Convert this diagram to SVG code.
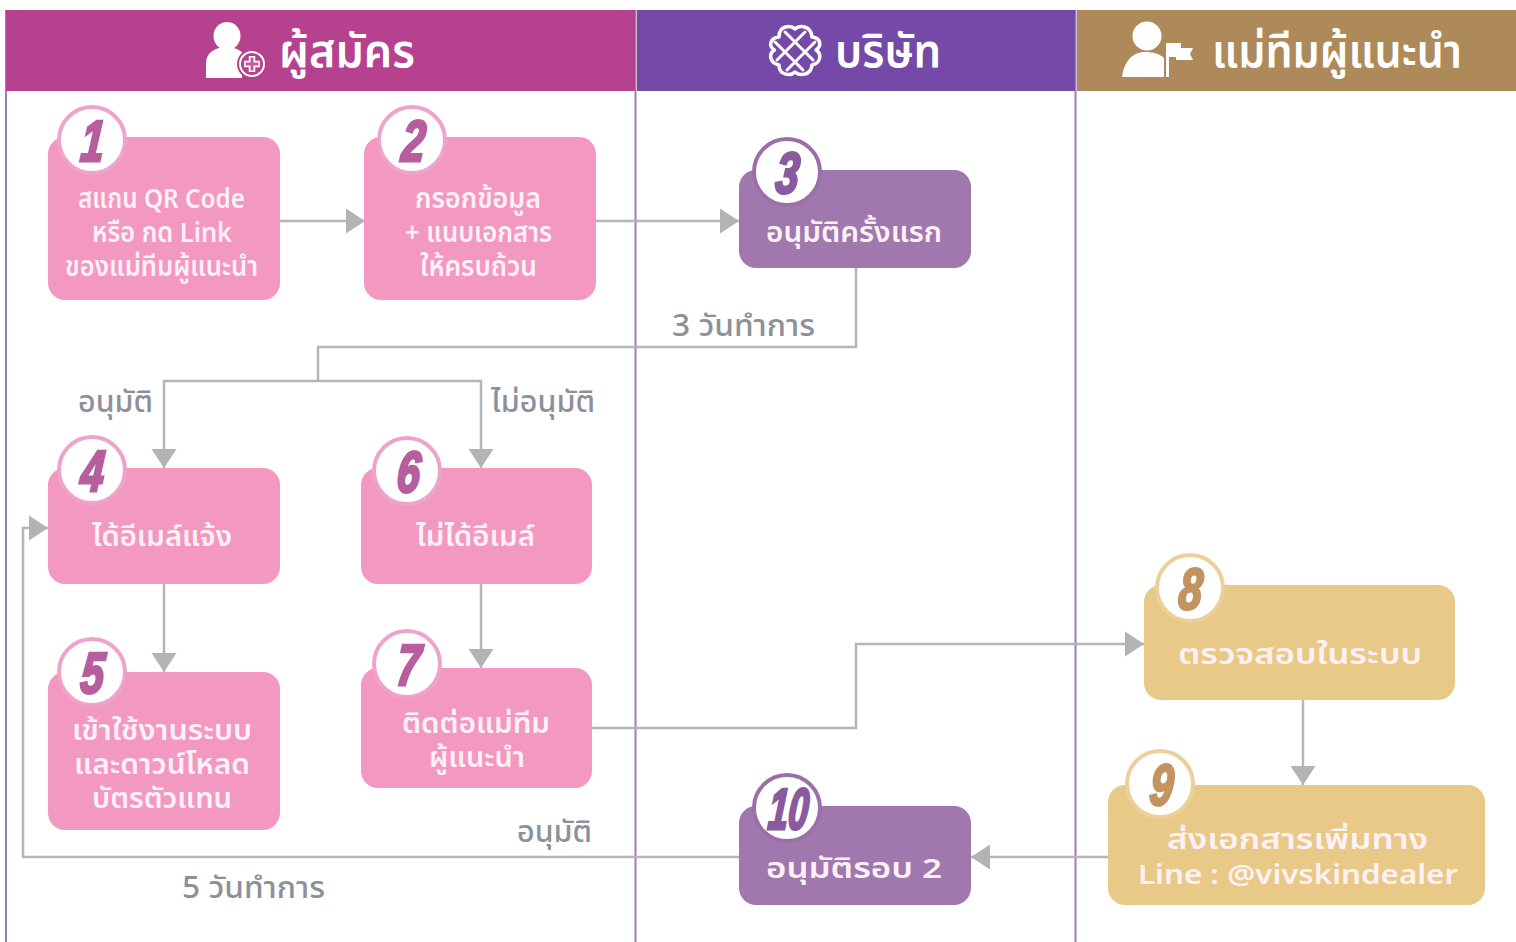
<svg xmlns="http://www.w3.org/2000/svg" width="1516" height="942" viewBox="0 0 1516 942">
<style>
text{font-family:"Noto Sans","Noto Sans Thai","Liberation Sans",sans-serif}
.h{font-size:47px;font-weight:600;fill:#fff}
.t{font-size:27.500px;font-weight:600;fill:#fdf1f6}
.l{font-size:31px;font-weight:500;fill:#8d909a}
.n{font-family:"Liberation Sans",sans-serif;font-size:58px;font-weight:700;font-style:italic;text-anchor:middle;stroke-width:3}
.c{fill:#fff;stroke-width:4}
.p{fill:#f398c0}.pc{stroke:#f0a3c8}.pn{fill:#b65e9e;stroke:#b65e9e}
.v{fill:#a078ae}.vc{stroke:#9a70a8}.vn{fill:#8a5a9e;stroke:#8a5a9e}
.g{fill:#e9c987}.gc{stroke:#ebd09a}.gn{fill:#c29560;stroke:#c29560}
.w{fill:none;stroke:#b5b5b5;stroke-width:2.5}
.lane{fill:none;stroke:#9c7db4;stroke-width:2}
.ic{fill:#fff}
</style>
<defs>
<marker id="a" markerUnits="userSpaceOnUse" markerWidth="20" markerHeight="26" refX="20" refY="13" orient="auto"><path d="M1 0.500L20 13L1 25.500Z" fill="#b3b3b3"/></marker>
</defs>
<rect width="1516" height="942" fill="#fff"/>
<g id="lanes">
<path class="lane" d="M6 10V942M635.500 10V942M1075.500 10V942"/>
<rect x="6" y="10" width="629" height="81" fill="#b5418f"/>
<rect x="637" y="10" width="438" height="81" fill="#7449a8"/>
<rect x="1077" y="10" width="439" height="81" fill="#ae8a5a"/>
</g>
<g id="lane-applicant">
<ellipse class="ic" cx="227" cy="36" rx="13.500" ry="14"/>
<path class="ic" d="M206 78V63C206 53 215 47 227 47C233 47 238 49 242 52V78Z"/>
<circle cx="252" cy="64" r="15" fill="#b5418f"/>
<circle cx="252" cy="64" r="12" fill="#b5418f" stroke="#fff" stroke-width="2"/>
<path d="M252 56V72M244 64H260" stroke="#fff" stroke-width="6.500"/>
<path d="M252 57.500V70.500M245.500 64H258.500" stroke="#c45aa0" stroke-width="3"/>
<text class="h" x="279" y="67" textLength="136" lengthAdjust="spacingAndGlyphs">ผู้สมัคร</text>
</g>
<g id="lane-company">
<path d="M795 29C791 25 779 25 779 37C770 38 768 46 774.500 50C768 54 770 63 779 65C779 76 791 76 795 72C799 76 811 76 812 65C821 63 822 54 816 50C822 46 821 38 812 37C811 25 799 25 795 29Z" fill="none" stroke="#fff" stroke-width="3.500" stroke-linejoin="round"/>
<path d="M775 42L803 70M785 32L813 60M815 42L787 70M805 32L777 60" fill="none" stroke="#fff" stroke-width="3" stroke-linecap="round"/>
<text class="h" x="835" y="67" textLength="106" lengthAdjust="spacingAndGlyphs">บริษัท</text>
</g>
<g id="lane-mentor">
<circle class="ic" cx="1147" cy="36" r="14.500"/>
<path class="ic" d="M1122 77C1124 62 1132 52 1145 52C1153 52 1160 54 1164 58V77Z"/>
<path class="ic" d="M1166 43H1181V57H1169V77H1166Z"/>
<path class="ic" d="M1181 48H1193L1190 54L1193 60H1176V57H1181Z"/>
<text class="h" x="1212" y="67" textLength="250" lengthAdjust="spacingAndGlyphs">แม่ทีมผู้แนะนำ</text>
</g>
<g id="connectors">
<path class="w" marker-end="url(#a)" d="M279 221H365"/>
<path class="w" marker-end="url(#a)" d="M596 221H739"/>
<path class="w" d="M856 268V347H318V381"/>
<path class="w" marker-end="url(#a)" d="M318 381H164V468"/>
<path class="w" marker-end="url(#a)" d="M318 381H481V468"/>
<path class="w" marker-end="url(#a)" d="M164 584V672"/>
<path class="w" marker-end="url(#a)" d="M481 584V668"/>
<path class="w" marker-end="url(#a)" d="M592 728H856V644H1144"/>
<path class="w" marker-end="url(#a)" d="M1303 700V785"/>
<path class="w" marker-end="url(#a)" d="M1108 857H971"/>
<path class="w" marker-end="url(#a)" d="M739 857H23V528H48"/>
</g>
<g id="labels">
<text class="l" x="672" y="336" textLength="143" lengthAdjust="spacingAndGlyphs">3 วันทำการ</text>
<text class="l" x="78" y="412" textLength="75" lengthAdjust="spacingAndGlyphs">อนุมัติ</text>
<text class="l" x="491" y="412" textLength="104" lengthAdjust="spacingAndGlyphs">ไม่อนุมัติ</text>
<text class="l" x="517" y="842" textLength="75" lengthAdjust="spacingAndGlyphs">อนุมัติ</text>
<text class="l" x="182" y="898" textLength="143" lengthAdjust="spacingAndGlyphs">5 วันทำการ</text>
</g>
<g id="node1"><rect class="p" x="48" y="137" width="232" height="163" rx="17"/><ellipse class="c pc" cx="92" cy="140" rx="33" ry="33"/><text class="n pn" transform="translate(91 161) skewX(-5) scale(.72 1)">1</text>
<text class="t" x="78" y="208" textLength="167" lengthAdjust="spacingAndGlyphs">สแกน QR Code</text><text class="t" x="92" y="242" textLength="140" lengthAdjust="spacingAndGlyphs">หรือ กด Link</text><text class="t" x="65" y="276" textLength="193" lengthAdjust="spacingAndGlyphs">ของแม่ทีมผู้แนะนำ</text></g>
<g id="node2"><rect class="p" x="364" y="137" width="232" height="163" rx="17"/><ellipse class="c pc" cx="412" cy="140" rx="33" ry="33"/><text class="n pn" transform="translate(412 161) skewX(-5) scale(.72 1)">2</text>
<text class="t" x="415" y="208" textLength="126" lengthAdjust="spacingAndGlyphs">กรอกข้อมูล</text><text class="t" x="405" y="242" textLength="147" lengthAdjust="spacingAndGlyphs">+ แนบเอกสาร</text><text class="t" x="420" y="276" textLength="117" lengthAdjust="spacingAndGlyphs">ให้ครบถ้วน</text></g>
<g id="node3"><rect class="v" x="739" y="170" width="232" height="98" rx="17"/><ellipse class="c vc" cx="787" cy="172" rx="33" ry="33"/><text class="n vn" transform="translate(786 193) skewX(-5) scale(.72 1)">3</text>
<text class="t" x="766" y="242" textLength="176" lengthAdjust="spacingAndGlyphs">อนุมัติครั้งแรก</text></g>
<g id="node4"><rect class="p" x="48" y="468" width="232" height="116" rx="17"/><ellipse class="c pc" cx="92" cy="470" rx="33" ry="33"/><text class="n pn" transform="translate(91 491) skewX(-5) scale(.72 1)">4</text>
<text class="t" x="92" y="546" textLength="140" lengthAdjust="spacingAndGlyphs">ได้อีเมล์แจ้ง</text></g>
<g id="node5"><rect class="p" x="48" y="672" width="232" height="158" rx="17"/><ellipse class="c pc" cx="92" cy="672" rx="33" ry="33"/><text class="n pn" transform="translate(91 693) skewX(-5) scale(.72 1)">5</text>
<text class="t" x="72" y="740" textLength="180" lengthAdjust="spacingAndGlyphs">เข้าใช้งานระบบ</text><text class="t" x="74" y="774" textLength="176" lengthAdjust="spacingAndGlyphs">และดาวน์โหลด</text><text class="t" x="92" y="808" textLength="140" lengthAdjust="spacingAndGlyphs">บัตรตัวแทน</text></g>
<g id="node6"><rect class="p" x="361" y="468" width="231" height="116" rx="17"/><ellipse class="c pc" cx="407" cy="471" rx="33" ry="33"/><text class="n pn" transform="translate(407 492) skewX(-5) scale(.72 1)">6</text>
<text class="t" x="416" y="546" textLength="119" lengthAdjust="spacingAndGlyphs">ไม่ได้อีเมล์</text></g>
<g id="node7"><rect class="p" x="361" y="668" width="231" height="120" rx="17"/><ellipse class="c pc" cx="407" cy="664" rx="33" ry="33"/><text class="n pn" transform="translate(407 685) skewX(-5) scale(.72 1)">7</text>
<text class="t" x="402" y="733" textLength="148" lengthAdjust="spacingAndGlyphs">ติดต่อแม่ทีม</text><text class="t" x="429" y="767" textLength="96" lengthAdjust="spacingAndGlyphs">ผู้แนะนำ</text></g>
<g id="node8"><rect class="g" x="1144" y="585" width="311" height="115" rx="17"/><ellipse class="c gc" cx="1190" cy="588" rx="33" ry="33"/><text class="n gn" transform="translate(1189 609) skewX(-5) scale(.72 1)">8</text>
<text class="t" x="1178" y="664" textLength="244" lengthAdjust="spacingAndGlyphs">ตรวจสอบในระบบ</text></g>
<g id="node9"><rect class="g" x="1108" y="785" width="377" height="120" rx="17"/><ellipse class="c gc" cx="1160" cy="784" rx="33" ry="33"/><text class="n gn" transform="translate(1160 805) skewX(-5) scale(.72 1)">9</text>
<text class="t" x="1167" y="849" textLength="261" lengthAdjust="spacingAndGlyphs">ส่งเอกสารเพิ่มทาง</text><text class="t" x="1138" y="884" textLength="320" lengthAdjust="spacingAndGlyphs">Line : @vivskindealer</text></g>
<g id="node10"><rect class="v" x="739" y="806" width="232" height="99" rx="17"/><ellipse class="c vc" cx="787" cy="808" rx="33" ry="33"/><text class="n vn" transform="translate(787 829) skewX(-5) scale(.62 1)">10</text>
<text class="t" x="766" y="878" textLength="176" lengthAdjust="spacingAndGlyphs">อนุมัติรอบ 2</text></g>
</svg>
